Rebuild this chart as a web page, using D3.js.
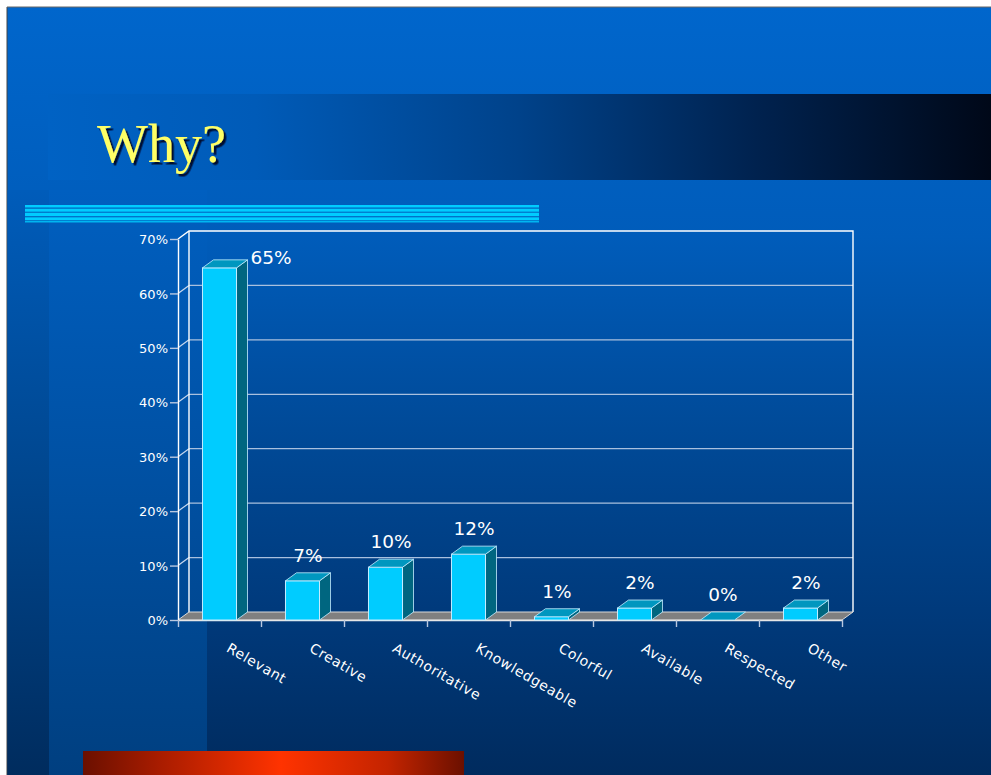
<!DOCTYPE html>
<html>
<head>
<meta charset="utf-8">
<script src="https://cdn.jsdelivr.net/npm/d3@7/dist/d3.min.js"></script>
<style>
  html, body { margin: 0; padding: 0; background: #ffffff; }
  svg { display: block; }
</style>
</head>
<body>
<svg id="chart" width="991" height="775"></svg>
<script>
// ---- data ----
const title = "Why?";
const categories = ["Relevant", "Creative", "Authoritative", "Knowledgeable", "Colorful", "Available", "Respected", "Other"];
const values = [64.7, 7.2, 9.7, 12.1, 0.6, 2.2, 0, 2.2];
const yTicks = [0, 10, 20, 30, 40, 50, 60, 70];

// ---- layout ----
const W = 991, H = 775;
const svg = d3.select("#chart");
const defs = svg.append("defs");

function linGrad(id, x1, y1, x2, y2, stops) {
  const g = defs.append("linearGradient").attr("id", id)
    .attr("x1", x1).attr("y1", y1).attr("x2", x2).attr("y2", y2);
  stops.forEach(s => g.append("stop").attr("offset", s[0]).attr("stop-color", s[1]));
}
linGrad("bgGrad", 0, 0, 0, 1, [[0, "#0066cc"], [0.3, "#005cba"], [0.55, "#004a98"], [0.8, "#00397a"], [1, "#002b5e"]]);
linGrad("panelGrad", 0, 0, 0, 1, [[0, "#005fc0"], [0.5, "#0050a2"], [1, "#003f80"]]);
linGrad("stripGrad", 0, 0, 0, 1, [[0, "#005cba"], [0.5, "#00468e"], [1, "#002c5e"]]);
linGrad("titleGrad", 0, 0, 1, 0, [[0, "#0062c4"], [0.22, "#005bb8"], [0.5, "#00428a"], [0.75, "#00224f"], [1, "#000818"]]);
linGrad("redGrad", 0, 0, 1, 0, [[0, "#6b1000"], [0.2, "#a81c00"], [0.52, "#ff3300"], [0.8, "#c42400"], [1, "#6b1000"]]);

const shadow = defs.append("filter").attr("id", "titleShadow")
  .attr("x", "-10%").attr("y", "-10%").attr("width", "130%").attr("height", "130%");
shadow.append("feDropShadow").attr("dx", 2.5).attr("dy", 2.5).attr("stdDeviation", 0.3)
  .attr("flood-color", "#000a30").attr("flood-opacity", 1);

// slide background
svg.append("rect").attr("x", 7).attr("y", 7).attr("width", W - 7).attr("height", H - 7)
  .attr("fill", "url(#bgGrad)");
svg.append("line").attr("x1", 7).attr("x2", 7).attr("y1", 7).attr("y2", H).attr("stroke", "#444").attr("stroke-width", 1);
svg.append("line").attr("x1", 7).attr("x2", W).attr("y1", 7).attr("y2", 7).attr("stroke", "#666").attr("stroke-width", 1);

// left decorative strips
svg.append("rect").attr("x", 7.5).attr("y", 190).attr("width", 41.5).attr("height", H - 190).attr("fill", "url(#stripGrad)");
svg.append("rect").attr("x", 49).attr("y", 190).attr("width", 158).attr("height", H - 190).attr("fill", "url(#panelGrad)");

// title bar
svg.append("rect").attr("x", 48).attr("y", 94).attr("width", W - 48).attr("height", 86).attr("fill", "url(#titleGrad)");
svg.append("text").attr("x", 97).attr("y", 162).text(title)
  .attr("font-family", "'Liberation Serif', 'Times New Roman', serif").attr("font-size", 54)
  .attr("fill", "#ffff66").attr("filter", "url(#titleShadow)");

// cyan stripes
const stripes = [[205, 2.5], [208.7, 3], [212.7, 3.5], [217.3, 3], [221.2, 1.2]];
stripes.forEach(s => svg.append("rect").attr("x", 25).attr("y", s[0]).attr("width", 514).attr("height", s[1]).attr("fill", "#00ccff"));

// bottom red bar
svg.append("rect").attr("x", 83).attr("y", 751).attr("width", 381).attr("height", 24).attr("fill", "url(#redGrad)");

// ---- chart ----
const DX = 11, DY = -8;
const x0 = 178, x1 = 842, yBase = 620;
const y = d3.scaleLinear().domain([0, 70]).range([yBase, 239]);
const x = d3.scaleBand().domain(categories).range([x0, x1]).paddingInner(0.59).paddingOuter(0.295);
const xIdx = d3.scaleLinear().domain([0, categories.length]).range([x0, x1]);

const chart = svg.append("g");

const topY = y(70) + DY;
const floorBackY = yBase + DY;
// gridlines on back wall and left wall
yTicks.filter(t => t > 0 && t < 70).forEach(t => {
  chart.append("line").attr("x1", x0 + DX).attr("x2", x1 + DX).attr("y1", y(t) + DY).attr("y2", y(t) + DY)
    .attr("stroke", "#a9c0de").attr("stroke-width", 1.2);
  chart.append("line").attr("x1", x0).attr("x2", x0 + DX).attr("y1", y(t)).attr("y2", y(t) + DY)
    .attr("stroke", "#c8d8ee").attr("stroke-width", 1.2);
});
chart.append("path")
  .attr("d", `M${x0},${y(70)} L${x0 + DX},${topY} L${x1 + DX},${topY} L${x1 + DX},${floorBackY}`)
  .attr("fill", "none").attr("stroke", "#ffffff").attr("stroke-width", 1.4);
chart.append("line").attr("x1", x0 + DX).attr("x2", x0 + DX).attr("y1", topY).attr("y2", floorBackY)
  .attr("stroke", "#ffffff").attr("stroke-width", 1.4);

// floor
chart.append("polygon")
  .attr("points", [[x0, yBase], [x1, yBase], [x1 + DX, floorBackY], [x0 + DX, floorBackY]].map(p => p.join(",")).join(" "))
  .attr("fill", "#808080").attr("stroke", "#d8d8d8").attr("stroke-width", 1);

// y axis
const yAxis = d3.axisLeft(y).tickValues(yTicks).tickFormat(d => d + "%").tickSize(8).tickSizeOuter(0);
const yG = chart.append("g").attr("transform", `translate(${x0},0)`).call(yAxis);
yG.select(".domain").attr("stroke", "#ffffff").attr("stroke-width", 1.4);
yG.selectAll(".tick line").attr("stroke", "#b8c8e0").attr("stroke-width", 1.4);
yG.selectAll(".tick text").attr("fill", "#ffffff").attr("font-family", "'DejaVu Sans', Verdana, sans-serif")
  .attr("font-size", 13).attr("x", -10).attr("dy", "0.36em");

// x axis (ticks at category boundaries)
const xAxis = d3.axisBottom(xIdx).tickValues(d3.range(categories.length + 1)).tickFormat("").tickSize(7).tickSizeOuter(0);
const xG = chart.append("g").attr("transform", `translate(0,${yBase})`).call(xAxis);
xG.select(".domain").attr("stroke", "#e6e6e6").attr("stroke-width", 1.4);
xG.selectAll(".tick line").attr("stroke", "#b8c8e0").attr("stroke-width", 1.4);

// bars
const bars = chart.selectAll("g.bar").data(categories.map((c, i) => ({ c, v: values[i] }))).join("g").attr("class", "bar");
const bw = x.bandwidth();
bars.each(function (d) {
  const g = d3.select(this);
  const bx = x(d.c), ty = y(d.v);
  const edge = "#c4ecff";
  if (yBase - ty > 0.01) {
    g.append("polygon")
      .attr("points", [[bx + bw, ty], [bx + bw + DX, ty + DY], [bx + bw + DX, yBase + DY], [bx + bw, yBase]].map(p => p.join(",")).join(" "))
      .attr("fill", "#006680").attr("stroke", edge).attr("stroke-width", 0.8);
    g.append("rect").attr("x", bx).attr("y", ty).attr("width", bw).attr("height", yBase - ty)
      .attr("fill", "#00ccff").attr("stroke", edge).attr("stroke-width", 1);
  }
  g.append("polygon")
    .attr("points", [[bx, ty], [bx + bw, ty], [bx + bw + DX, ty + DY], [bx + DX, ty + DY]].map(p => p.join(",")).join(" "))
    .attr("fill", "#0097bf").attr("stroke", edge).attr("stroke-width", 0.8);
});

// value labels
const fmt = v => Math.round(v) + "%";
bars.each(function (d) {
  const g = d3.select(this);
  const bx = x(d.c), ty = y(d.v);
  const backTop = ty + DY;
  let tx, tyL, anchor;
  if (backTop - 30 < topY) {
    tx = bx + bw + DX + 3; tyL = ty - 4; anchor = "start";
  } else {
    tx = bx + bw / 2 + DX / 2; tyL = backTop - 11; anchor = "middle";
  }
  g.append("text").attr("x", tx).attr("y", tyL).attr("text-anchor", anchor).text(fmt(d.v))
    .attr("fill", "#ffffff").attr("font-family", "'DejaVu Sans', Verdana, sans-serif").attr("font-size", 18.5);
});

// category labels (rotated)
chart.selectAll("text.cat").data(categories).join("text").attr("class", "cat")
  .attr("transform", d => `translate(${x(d) + bw / 2 + 6},${651}) rotate(30)`)
  .attr("text-anchor", "start").text(d => d)
  .attr("fill", "#ffffff").attr("font-family", "'DejaVu Sans', Verdana, sans-serif")
  .attr("font-size", 14).attr("letter-spacing", 0.6);
</script>
</body>
</html>
